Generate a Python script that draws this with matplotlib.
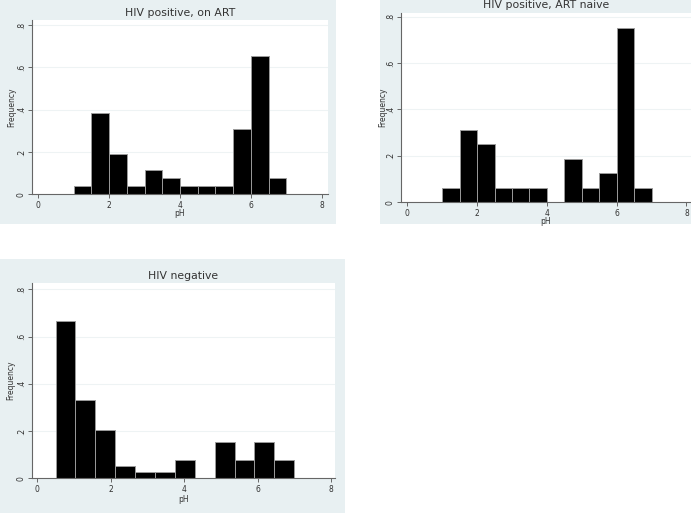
import numpy as np
import matplotlib
matplotlib.use("Agg")
import matplotlib.pyplot as plt
from matplotlib.patches import Rectangle

W, H = 691, 513

# bin edges (pH)
edges_art = np.linspace(1.0, 7.0, 13)
edges_naive = np.linspace(1.0, 7.0, 13)
edges_neg = np.linspace(0.5, 7.0, 13)

# density heights
freq_art = [0.038, 0.385, 0.192, 0.038, 0.115, 0.077, 0.038, 0.038, 0.038, 0.308, 0.654, 0.077]
freq_naive = [0.0625, 0.3125, 0.25, 0.0625, 0.0625, 0.0625, 0.0, 0.1875, 0.0625, 0.125, 0.75, 0.0625]
freq_neg = [0.667, 0.333, 0.205, 0.051, 0.026, 0.026, 0.077, 0.0, 0.154, 0.077, 0.154, 0.077]

titles = ["HIV positive, on ART", "HIV positive, ART naive", "HIV negative"]
xticks = [0, 2, 4, 6, 8]
yticks = [0, 0.2, 0.4, 0.6, 0.8]
ytick_labels = ["0", ".2", ".4", ".6", ".8"]

BG = "#e8f0f2"
AX = "#666666"
TXT = "#333333"

fig = plt.figure(figsize=(W / 100, H / 100), dpi=100)
fig.patch.set_facecolor("white")


def px_rect(x0, y0, x1, y1):
    return [x0 / W, 1 - y1 / H, (x1 - x0) / W, (y1 - y0) / H]


def panel(bg, plot, xlim, ytop, edges, heights, title, title_y, xlab_y, ylab_x):
    b = px_rect(*bg)
    fig.patches.append(Rectangle((b[0], b[1]), b[2], b[3], transform=fig.transFigure,
                                 facecolor=BG, edgecolor="none", zorder=-5))
    ax = fig.add_axes(px_rect(*plot))
    ax.set_facecolor("white")
    ax.set_xlim(*xlim)
    ax.set_ylim(0, ytop)
    for y in yticks[1:]:
        ax.axhline(y, color="#eef3f4", lw=0.8, zorder=0)
    widths = np.diff(edges)
    ax.bar(edges[:-1], heights, width=widths, align="edge", color="black",
           edgecolor="#9a9a9a", linewidth=0.7, zorder=2)
    for s in ["top", "right"]:
        ax.spines[s].set_visible(False)
    for s in ["left", "bottom"]:
        ax.spines[s].set_color(AX)
        ax.spines[s].set_linewidth(0.8)
    ax.set_xticks(xticks)
    ax.set_yticks(yticks)
    ax.set_yticklabels(ytick_labels, rotation=90, va="center")
    ax.tick_params(axis="both", length=3, width=0.7, color=AX, labelsize=5.5,
                   labelcolor=TXT, pad=1.5)
    # title / labels in figure pixel space
    cx = (plot[0] + plot[2]) / 2 / W
    fig.text(cx, 1 - title_y / H, title, ha="center", va="center", fontsize=7.8, color=TXT)
    fig.text(cx, 1 - xlab_y / H, "pH", ha="center", va="center", fontsize=5.5, color=TXT)
    cy = 1 - (plot[1] + plot[3]) / 2 / H
    fig.text(ylab_x / W, cy, "Frequency", ha="center", va="center", rotation=90,
             fontsize=5.5, color=TXT)
    return ax


panel((0, 0, 336, 224), (32, 20, 328, 194.3), (-0.18, 8.18), 0.824,
      edges_art, freq_art, titles[0], 13, 213, 12)
panel((380, 0, 691, 224), (401, 12.7, 691, 202.3), (-0.18, 8.13), 0.817,
      edges_naive, freq_naive, titles[1], 5, 221, 382.5)
panel((0, 259, 345, 513), (32, 283, 335, 478.3), (-0.14, 8.11), 0.827,
      edges_neg, freq_neg, titles[2], 276, 500, 11)

fig.savefig("out.png", dpi=100)
